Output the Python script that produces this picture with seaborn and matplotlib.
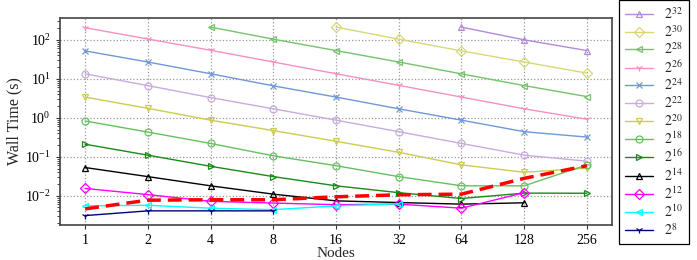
import numpy as np
import pandas as pd
import matplotlib
matplotlib.use("Agg")
import matplotlib.pyplot as plt
import seaborn as sns

# ================================= Data =================================

nodes = [1, 2, 4, 8, 16, 32, 64, 128, 256]
nan = np.nan

sizes = ["2^{32}", "2^{30}", "2^{28}", "2^{26}", "2^{24}", "2^{22}", "2^{20}",
         "2^{18}", "2^{16}", "2^{14}", "2^{12}", "2^{10}", "2^{8}"]

t32 = [nan, nan, nan, nan, nan, nan, 212, 100, 53]
t30 = [nan, nan, nan, nan, 212, 104, 52, 27, 14]
t28 = [nan, nan, 212, 104, 53, 27, 13.4, 6.7, 3.5]
t26 = [205, 105, 54, 27, 13.5, 6.8, 3.4, 1.7, 0.92]
t24 = [52, 27, 13.5, 6.6, 3.4, 1.7, 0.87, 0.44, 0.32]
t22 = [13.4, 6.7, 3.3, 1.7, 0.87, 0.44, 0.22, 0.11, 0.077]
t20 = [3.4, 1.75, 0.87, 0.47, 0.25, 0.13, 0.062, 0.04, 0.051]
t18 = [0.83, 0.43, 0.22, 0.106, 0.059, 0.031, 0.018, 0.018, 0.062]
t16 = [0.21, 0.11, 0.057, 0.031, 0.018, 0.012, 0.0085, 0.0117, 0.0116]
t14 = [0.053, 0.031, 0.018, 0.011, 0.0074, 0.0067, 0.0061, 0.0066, nan]
t12 = [0.0154, 0.0107, 0.0072, 0.0065, 0.0059, 0.0061, 0.0048, 0.012, nan]
t10 = [0.0055, 0.0057, 0.0048, 0.0044, 0.0055, 0.0062, nan, nan, nan]
t8 = [0.0031, 0.0041, 0.0041, 0.0041, nan, nan, nan, nan, nan]

# red dashed reference line (no legend entry)
t_ref = [0.0046, 0.0077, 0.0079, 0.0079, 0.0094, 0.0106, 0.011, 0.028, 0.059]

times = [t32, t30, t28, t26, t24, t22, t20, t18, t16, t14, t12, t10, t8]

colors = ["#b48ad8", "#d8d878", "#74c46c", "#f590c4", "#6e98d8", "#c8acdc", "#cccc50",
          "#66c060", "#1a8a1a", "black", "#ff00ff", "#00ffff", "#000080"]
markers = ["^", "D", "<", "1", "x", "o", "v", "o", ">", "^", "D", "<", "1"]

# ================================= Plot =================================

sns.set_style("ticks")
plt.rcParams["font.family"] = ["Liberation Serif", "DejaVu Serif"]
plt.rcParams["mathtext.fontset"] = "stix"

fig = plt.figure(figsize=(6.97, 2.6), dpi=100)
ax = fig.add_axes([60 / 697, 35 / 260, 552 / 697, 207 / 260])

for lab, vals, col, mk in zip(sizes, times, colors, markers):
    df = pd.DataFrame({"Nodes": nodes, "Time": vals})
    sns.lineplot(data=df, x="Nodes", y="Time", ax=ax, color=col, marker=mk,
                 markersize=5, markerfacecolor="none", markeredgecolor=col,
                 markeredgewidth=0.9, linewidth=1, label="$" + lab + "$")

ref = pd.DataFrame({"Nodes": nodes, "Time": t_ref})
sns.lineplot(data=ref, x="Nodes", y="Time", ax=ax, color="red", linewidth=2.5,
             linestyle=(0, (4, 2)), zorder=5)

ax.set_xscale("log", base=2)
ax.set_yscale("log")
ax.set_xlim(2 ** -0.4, 2 ** 8.4)
ax.set_ylim(10 ** -2.75, 10 ** 2.56)
ax.set_xticks(nodes)
ax.set_xticklabels([str(n) for n in nodes])
ax.xaxis.set_minor_locator(matplotlib.ticker.NullLocator())
ax.set_yticks([1e-2, 1e-1, 1e0, 1e1, 1e2])
ax.tick_params(labelsize=10, direction="out", length=3, width=0.8, colors="#333333", labelcolor="black")
ax.tick_params(which="minor", length=2, width=0.6)
ax.grid(True, which="major", linestyle=":", color="#999999", linewidth=0.9)
ax.set_xlabel("Nodes", fontsize=11, labelpad=0)
ax.set_ylabel("Wall Time (s)", fontsize=11.5, labelpad=2)
for sp in ax.spines.values():
    sp.set_visible(True)
    sp.set_color("#444444")
    sp.set_linewidth(1.2)

handles, labels = ax.get_legend_handles_labels()
if ax.get_legend() is not None:
    ax.get_legend().remove()
leg = fig.legend(handles[:13], labels[:13], loc="upper left", bbox_to_anchor=(619 / 697, 1.0),
                 borderaxespad=0, fontsize=10, labelspacing=0.13, borderpad=0.45,
                 handlelength=2.0, fancybox=False, edgecolor="black", framealpha=1)
leg.get_frame().set_linewidth(0.9)

plt.savefig("out.png", dpi=100)
